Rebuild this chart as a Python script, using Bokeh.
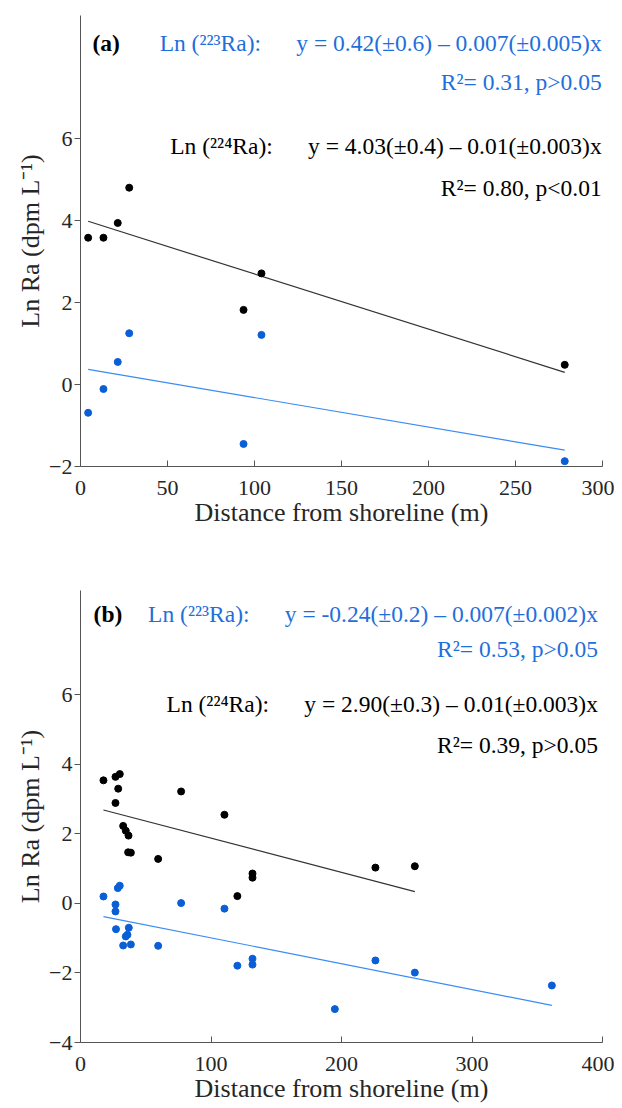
from bokeh.plotting import figure
from bokeh.layouts import column
from bokeh.models import FixedTicker, ColumnDataSource
from bokeh.embed import file_html
from bokeh.resources import INLINE
from bokeh.core.properties import value

# ---------------- data: panel (a) ----------------
a_dist = [4.4, 13.2, 21.4, 28.0, 93.7, 104.0, 278.3]
a_ra224 = [3.58, 3.58, 3.94, 4.80, 1.82, 2.71, 0.48]
a_ra223 = [-0.69, -0.11, 0.55, 1.25, -1.45, 1.21, -1.87]
a_fit224 = [4.04, -0.01345]   # intercept, slope
a_fit223 = [0.40, -0.00719]
a_xticks = [0, 50, 100, 150, 200, 250, 300]
a_yticks = [-2, 0, 2, 4, 6]

# ---------------- data: panel (b) ----------------
b_dist224 = [17.6, 26.8, 30.1, 28.9, 26.8, 32.7, 34.7, 36.8, 36.5, 38.6,
             59.5, 77.1, 110.3, 120.2, 131.8, 131.8, 226.0, 256.2]
b_ra224 = [3.54, 3.64, 3.72, 3.30, 2.89, 2.23, 2.09, 1.95, 1.47, 1.46,
           1.28, 3.22, 2.55, 0.21, 0.86, 0.74, 1.03, 1.07]
b_dist223 = [17.6, 26.8, 26.8, 27.2, 28.6, 30.1, 37.0, 36.0, 34.7, 32.7, 38.6,
             59.5, 77.1, 110.3, 120.2, 131.8, 131.8, 226.0, 256.2, 194.9, 361.2]
b_ra223 = [0.20, -0.03, -0.23, -0.74, 0.44, 0.51, -0.70, -0.90, -0.95, -1.21, -1.18,
           -1.22, 0.01, -0.15, -1.79, -1.59, -1.76, -1.64, -1.99, -3.04, -2.36]
b_fit224 = [2.86, -0.00984]
b_fit223 = [-0.247, -0.00743]
b_xticks = [0, 100, 200, 300, 400]
b_yticks = [-4, -2, 0, 2, 4, 6]

SP = "\u00a0" * 6
a_texts = ["(a)",
           "Ln (\u00b2\u00b2\u00b3Ra):" + SP + "y = 0.42(\u00b10.6) \u2013 0.007(\u00b10.005)x",
           "R\u00b2= 0.31, p>0.05",
           "Ln (\u00b2\u00b2\u2074Ra):" + SP + "y = 4.03(\u00b10.4) \u2013 0.01(\u00b10.003)x",
           "R\u00b2= 0.80, p<0.01"]
b_texts = ["(b)",
           "Ln (\u00b2\u00b2\u00b3Ra):" + SP + "y = -0.24(\u00b10.2) \u2013 0.007(\u00b10.002)x",
           "R\u00b2= 0.53, p>0.05",
           "Ln (\u00b2\u00b2\u2074Ra):" + SP + "y = 2.90(\u00b10.3) \u2013 0.01(\u00b10.003)x",
           "R\u00b2= 0.39, p>0.05"]

BLUE_PT = "#0a5fd6"
BLUE_LN = "#3a8cf2"
BLUE_TX = "#1f6fdb"
FONT = "Liberation Serif"


def make_panel(xmax, ymin, xticks, yticks, d224, r224, d223, r223, f224, f223,
               texts, text_x_left, text_x_right, text_ys, height, top, bottom):
    p = figure(width=614, height=height, x_range=(0, xmax), y_range=(ymin, 9),
               output_backend="svg", toolbar_location=None,
               min_border_left=80, min_border_right=12,
               min_border_top=top, min_border_bottom=bottom)
    p.outline_line_color = None
    p.grid.visible = False
    p.background_fill_color = "white"

    p.xaxis.ticker = FixedTicker(ticks=xticks)
    p.yaxis.ticker = FixedTicker(ticks=yticks)
    for ax in (p.xaxis, p.yaxis):
        ax.axis_line_color = "#555555"
        ax.major_tick_line_color = "#555555"
        ax.minor_tick_line_color = None
        ax.major_label_text_font = FONT
        ax.major_label_text_font_size = "22px"
        ax.major_label_text_color = "#262626"
        ax.axis_label_text_font = FONT
        ax.axis_label_text_font_size = "26px"
        ax.axis_label_text_font_style = "normal"
        ax.axis_label_text_color = "#262626"
    p.xaxis.major_tick_in = 6
    p.xaxis.major_tick_out = 0
    p.xaxis.major_label_standoff = 14
    p.xaxis.axis_label_standoff = 0
    p.yaxis.major_tick_in = 0
    p.yaxis.major_tick_out = 6
    p.yaxis.major_label_standoff = 2
    p.yaxis.axis_label_standoff = 1
    p.xaxis.axis_label = "Distance from shoreline (m)"
    p.yaxis.axis_label = "Ln Ra (dpm L\u207b\u00b9)"

    # regression lines
    x224 = [min(d224), max(d224)]
    x223 = [min(d223), max(d223)]
    p.line(x224, [f224[0] + f224[1] * x for x in x224], line_color="#333333", line_width=1.2)
    p.line(x223, [f223[0] + f223[1] * x for x in x223], line_color=BLUE_LN, line_width=1.2)

    # points
    p.scatter(d224, r224, size=7, fill_color="black", line_color="black")
    p.scatter(d223, r223, size=7, fill_color=BLUE_PT, line_color=BLUE_PT)

    # annotations
    colors = ["black", BLUE_TX, BLUE_TX, "black", "black"]
    src_r = ColumnDataSource(dict(x=[text_x_right] * 4, y=text_ys[1:],
                                  t=texts[1:], c=colors[1:]))
    p.text(x="x", y="y", text="t", text_color="c", source=src_r,
           text_align="right", text_baseline="middle",
           text_font=value(FONT), text_font_size="23.5px")
    p.text(x=[text_x_left], y=[text_ys[0]], text=[texts[0]], text_color="black",
           text_align="left", text_baseline="middle", text_font=value(FONT),
           text_font_size="23.5px", text_font_style="bold")
    return p


pa = make_panel(300, -2, a_xticks, a_yticks, a_dist, a_ra224, a_dist, a_ra223,
                a_fit224, a_fit223, a_texts, 6.9, 299.5,
                [8.34, 8.34, 7.39, 5.82, 4.79], 564, 15, 98)
pb = make_panel(400, -4, b_xticks, b_yticks, b_dist224, b_ra224, b_dist223, b_ra223,
                b_fit224, b_fit223, b_texts, 10.0, 396.5,
                [8.32, 8.32, 7.32, 5.74, 4.56], 543, 26, 65)

layout = column(pa, pb)
open("out.html", "w").write(file_html(layout, INLINE))
